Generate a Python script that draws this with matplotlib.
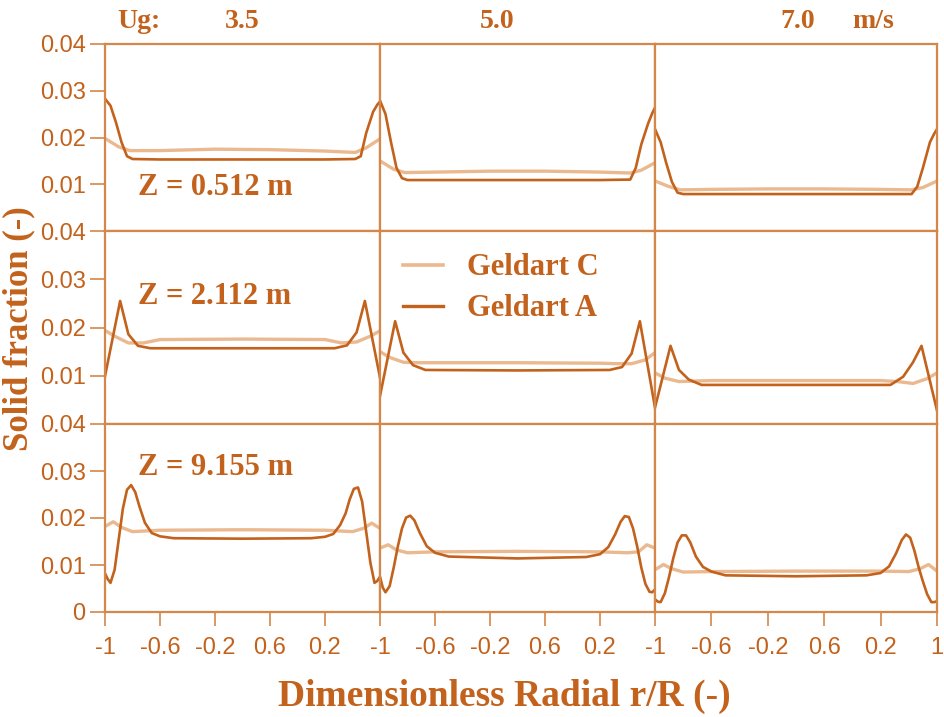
import matplotlib
matplotlib.use("Agg")
import matplotlib.pyplot as plt
from matplotlib.lines import Line2D

ORANGE = "#C2621C"
LIGHT = "#EAB990"
SPINE = "#D3874A"

# velocities (columns) and heights (rows)
ug_labels = ["3.5", "5.0", "7.0"]
z_labels = ["Z = 0.512 m", "Z = 2.112 m", "Z = 9.155 m"]

# ---- Z = 0.512 m ----
x_a_r0 = [-1, -0.96, -0.92, -0.88, -0.84, -0.8, -0.6, -0.2, 0.2, 0.6, 0.82, 0.86, 0.9, 0.95, 0.98, 1]
a_r0_u35 = [0.0283, 0.0268, 0.0232, 0.019, 0.016, 0.0154, 0.0153, 0.0153, 0.0153, 0.0153, 0.0154, 0.016, 0.021, 0.0255, 0.027, 0.0277]
a_r0_u50 = [0.0279, 0.025, 0.019, 0.0135, 0.0113, 0.0109, 0.0109, 0.0109, 0.0109, 0.0109, 0.011, 0.0135, 0.0185, 0.023, 0.0252, 0.0264]
a_r0_u70 = [0.0218, 0.019, 0.0145, 0.0105, 0.0082, 0.0079, 0.0079, 0.0079, 0.0079, 0.0079, 0.0079, 0.0095, 0.0135, 0.019, 0.0208, 0.0218]
x_c_r0 = [-1, -0.9, -0.82, -0.6, -0.2, 0.2, 0.6, 0.82, 0.9, 1]
c_r0_u35 = [0.0198, 0.018, 0.0172, 0.0172, 0.0175, 0.0174, 0.0171, 0.0168, 0.0178, 0.0197]
c_r0_u50 = [0.015, 0.0132, 0.0125, 0.0126, 0.0128, 0.0128, 0.0126, 0.0124, 0.013, 0.0146]
c_r0_u70 = [0.0107, 0.0095, 0.0088, 0.0089, 0.009, 0.009, 0.0089, 0.0088, 0.0093, 0.0107]

# ---- Z = 2.112 m ----
x_a_r1 = [-1, -0.89, -0.83, -0.76, -0.67, 0, 0.67, 0.76, 0.83, 0.89, 1]
a_r1_u35 = [0.0099, 0.0255, 0.0186, 0.0162, 0.0157, 0.0157, 0.0157, 0.0163, 0.019, 0.0255, 0.0096]
a_r1_u50 = [0.0058, 0.0213, 0.0148, 0.0122, 0.0112, 0.0111, 0.0112, 0.0118, 0.0146, 0.0213, 0.0034]
a_r1_u70 = [0.0034, 0.0162, 0.0112, 0.0092, 0.0081, 0.0081, 0.0081, 0.0098, 0.0128, 0.0162, 0.0028]
x_c_r1 = [-1, -0.93, -0.83, -0.72, -0.6, 0, 0.6, 0.72, 0.83, 0.93, 1]
c_r1_u35 = [0.0194, 0.0182, 0.0168, 0.0168, 0.0175, 0.0176, 0.0175, 0.0168, 0.017, 0.0182, 0.0193]
c_r1_u50 = [0.015, 0.0138, 0.0128, 0.0127, 0.0127, 0.0127, 0.0126, 0.0125, 0.0125, 0.0133, 0.0148]
c_r1_u70 = [0.0106, 0.0095, 0.0088, 0.0089, 0.009, 0.009, 0.009, 0.0088, 0.0084, 0.0094, 0.0106]

# ---- Z = 9.155 m ----
x_a_r2 = [-1, -0.98, -0.96, -0.93, -0.9, -0.87, -0.84, -0.81, -0.78, -0.75, -0.71, -0.66, -0.6, -0.5, 0,
          0.5, 0.6, 0.66, 0.71, 0.75, 0.78, 0.81, 0.84, 0.87, 0.9, 0.93, 0.96, 0.98, 1]
a_r2_u35 = [0.0082, 0.007, 0.0062, 0.009, 0.0155, 0.022, 0.026, 0.027, 0.0255, 0.0225, 0.019, 0.0168, 0.0161, 0.0157, 0.0156,
            0.0157, 0.016, 0.0166, 0.0185, 0.021, 0.024, 0.0262, 0.0265, 0.0235, 0.017, 0.0105, 0.0062, 0.0066, 0.0075]
a_r2_u50 = [0.0075, 0.0052, 0.0042, 0.0055, 0.0095, 0.014, 0.0178, 0.0201, 0.0205, 0.0195, 0.0168, 0.014, 0.0126, 0.0118, 0.0114,
            0.0117, 0.0123, 0.0138, 0.0165, 0.0192, 0.0204, 0.0202, 0.0178, 0.014, 0.0095, 0.006, 0.0043, 0.0042, 0.0048]
a_r2_u70 = [0.0027, 0.0022, 0.0021, 0.004, 0.0075, 0.0115, 0.0148, 0.0163, 0.0163, 0.0148, 0.0118, 0.0096, 0.0086, 0.0078, 0.0076,
            0.0078, 0.0083, 0.0097, 0.0125, 0.0153, 0.0165, 0.0158, 0.013, 0.0095, 0.0065, 0.0038, 0.0021, 0.0021, 0.0023]
x_c_r2 = [-1, -0.94, -0.88, -0.8, -0.6, 0, 0.6, 0.8, 0.88, 0.94, 1]
c_r2_u35 = [0.0182, 0.0192, 0.018, 0.0171, 0.0174, 0.0175, 0.0174, 0.0171, 0.0178, 0.0189, 0.0178]
c_r2_u50 = [0.0136, 0.0143, 0.0132, 0.0126, 0.0128, 0.0129, 0.0128, 0.0126, 0.0128, 0.0143, 0.0136]
c_r2_u70 = [0.009, 0.0101, 0.0092, 0.0085, 0.0086, 0.0087, 0.0087, 0.0086, 0.0092, 0.0101, 0.0087]

x_ticks = [-1, -0.6, -0.2, 0.2, 0.6]
x_tick_labels = ["-1", "-0.6", "-0.2", "0.6", "0.2"]

xa_rows = [x_a_r0, x_a_r1, x_a_r2]
xc_rows = [x_c_r0, x_c_r1, x_c_r2]
a_series = [[a_r0_u35, a_r0_u50, a_r0_u70],
            [a_r1_u35, a_r1_u50, a_r1_u70],
            [a_r2_u35, a_r2_u50, a_r2_u70]]
c_series = [[c_r0_u35, c_r0_u50, c_r0_u70],
            [c_r1_u35, c_r1_u50, c_r1_u70],
            [c_r2_u35, c_r2_u50, c_r2_u70]]

W, H = 945, 717
fig = plt.figure(figsize=(W / 100, H / 100), dpi=100)

col_edges = [105, 380, 655, 937]
row_edges = [44, 231, 424, 612]

tick_font = dict(family="Liberation Sans", size=17, color=ORANGE)
serif_bold = dict(family="Liberation Serif", weight="bold", color=ORANGE)

for r in range(3):
    for c in range(3):
        x0, x1 = col_edges[c], col_edges[c + 1]
        y0, y1 = row_edges[r], row_edges[r + 1]
        ax = fig.add_axes([x0 / W, 1 - y1 / H, (x1 - x0) / W, (y1 - y0) / H])
        ax.plot(xc_rows[r], c_series[r][c], color=LIGHT, lw=2.4, solid_joinstyle="round")
        ax.plot(xa_rows[r], a_series[r][c], color=ORANGE, lw=1.9, solid_joinstyle="round")
        ax.set_xlim(-1, 1)
        ax.set_ylim(0, 0.04)
        for s in ax.spines.values():
            s.set_color(SPINE)
            s.set_linewidth(1.6)
        ax.tick_params(colors=SPINE, width=1.2, direction="out")
        # y ticks only on first column
        if c == 0:
            yt = [0.01, 0.02, 0.03, 0.04] if r < 2 else [0, 0.01, 0.02, 0.03, 0.04]
            ax.set_yticks(yt)
            ax.set_yticklabels(["0" if v == 0 else f"{v:.2f}" for v in yt], **tick_font)
            ax.tick_params(axis="y", length=11, pad=3)
        else:
            ax.set_yticks([])
        if r == 2:
            xt = list(x_ticks)
            xl = list(x_tick_labels)
            if c == 2:
                xt.append(1)
                xl.append("1")
            ax.set_xticks(xt)
            ax.set_xticklabels(xl, **tick_font)
            ax.tick_params(axis="x", length=10, pad=8)
        else:
            ax.set_xticks([])
        if c == 0:
            zy = [0.234, 0.663, 0.766][r]
            ax.text(0.12, zy, z_labels[r], transform=ax.transAxes, ha="left", va="center",
                    fontsize=22, **serif_bold)
        if r == 1 and c == 1:
            handles = [Line2D([], [], color=LIGHT, lw=2.6), Line2D([], [], color=ORANGE, lw=2.4)]
            leg = ax.legend(handles, ["Geldart C", "Geldart A"], loc="upper left",
                            bbox_to_anchor=(0.084, 0.885), frameon=False, borderpad=0,
                            borderaxespad=0, handlelength=1.3, handletextpad=0.8,
                            labelspacing=0.4,
                            prop=dict(family="Liberation Serif", weight="bold", size=22))
            for t in leg.get_texts():
                t.set_color(ORANGE)

# header
fig.text(117 / W, 1 - 22 / H, "Ug:", ha="left", va="center", fontsize=20, **serif_bold)
fig.text(242 / W, 1 - 22 / H, ug_labels[0], ha="center", va="center", fontsize=20, **serif_bold)
fig.text(497 / W, 1 - 22 / H, ug_labels[1], ha="center", va="center", fontsize=20, **serif_bold)
fig.text(798 / W, 1 - 22 / H, ug_labels[2], ha="center", va="center", fontsize=20, **serif_bold)
fig.text(873 / W, 1 - 22 / H, "m/s", ha="center", va="center", fontsize=20, **serif_bold)

fig.text(19 / W, 1 - 329 / H, "Solid fraction (-)", rotation=90, ha="center", va="center",
         fontsize=25, **serif_bold)
fig.text(504 / W, 1 - 696 / H, "Dimensionless Radial r/R (-)", ha="center", va="center",
         fontsize=27, **serif_bold)

fig.savefig("out.png", dpi=100)
